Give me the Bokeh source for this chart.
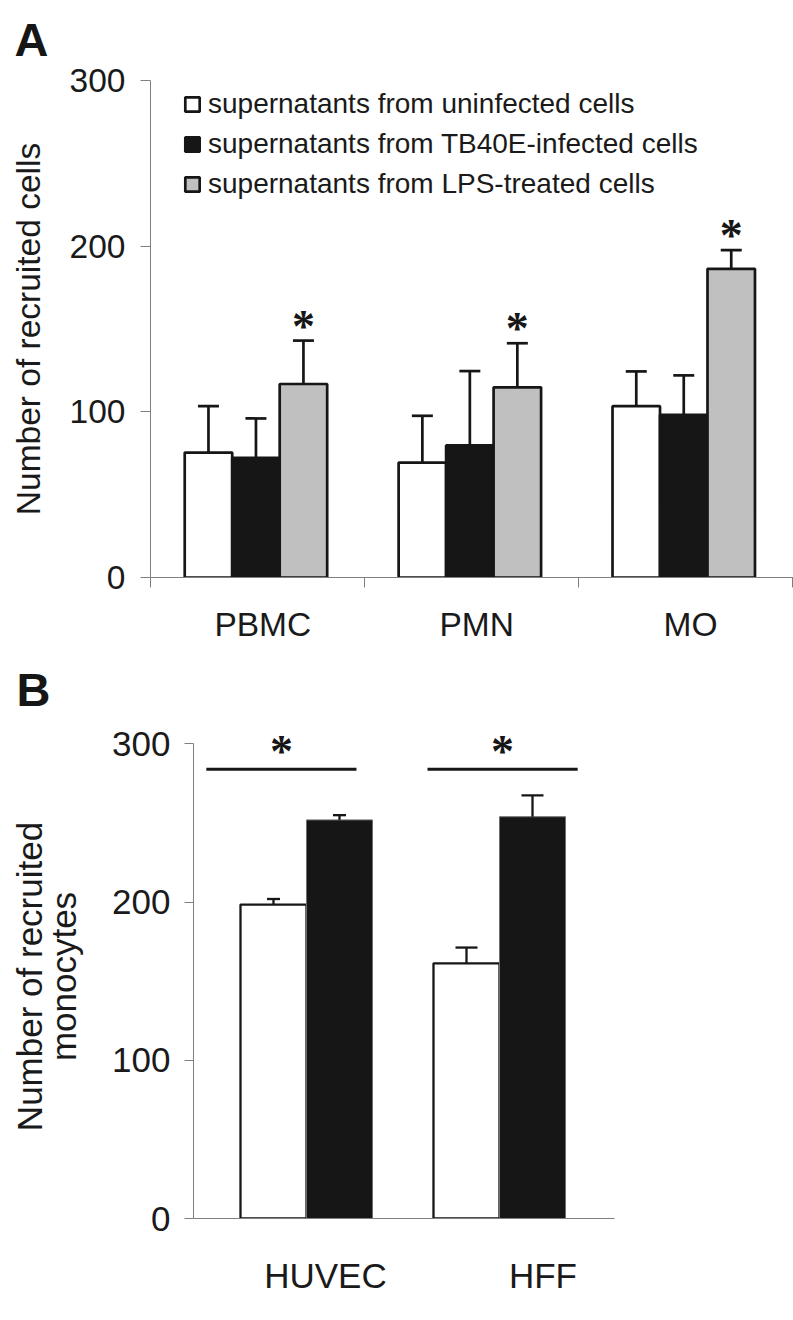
import numpy as np
from bokeh.plotting import figure
from bokeh.models import (ColumnDataSource, Whisker, TeeHead, Legend, LegendItem,
                          FixedTicker, LabelSet, Title)
from bokeh.embed import file_html
from bokeh.resources import INLINE

# ---------------- data: panel A ----------------
cells_a = ["PBMC", "PMN", "MO"]
series_a = ["supernatants from uninfected cells",
            "supernatants from TB40E-infected cells",
            "supernatants from LPS-treated cells"]
uninfected_a = [75.4, 69.4, 103.4]
uninfected_err_a = [28.0, 28.2, 21.0]
infected_a = [72.2, 79.7, 98.2]
infected_err_a = [23.8, 44.9, 23.8]
lps_a = [116.8, 114.8, 186.3]
lps_err_a = [26.2, 26.6, 11.3]
lps_signif_a = ["*", "*", "*"]
yticks_a = [0, 100, 200, 300]

# ---------------- data: panel B ----------------
cells_b = ["HUVEC", "HFF"]
uninfected_b = [198.5, 161.3]
uninfected_err_b = [3.5, 10.0]
infected_b = [252.0, 254.0]
infected_err_b = [3.0, 13.5]
bracket_level_b = [284, 284]
bracket_signif_b = ["*", "*"]
yticks_b = [0, 100, 200, 300]

FONT = "Liberation Sans"
DARK = "#161616"
GREY = "#c0c0c0"
AXIS = "#7f7f7f"
TXT = "#1a1a1a"


def style_common(p):
    p.xgrid.grid_line_color = None
    p.ygrid.grid_line_color = None
    p.outline_line_color = None
    p.background_fill_color = "white"
    p.border_fill_color = "white"
    for ax in (p.xaxis[0], p.yaxis[0]):
        ax.axis_line_color = AXIS
        ax.axis_line_width = 1
        ax.major_tick_line_color = AXIS
        ax.minor_tick_line_color = AXIS
        ax.major_tick_in = 0
        ax.minor_tick_in = 0
        ax.major_label_text_font = FONT
        ax.major_label_text_color = TXT
        ax.axis_label_text_font = FONT
        ax.axis_label_text_font_style = "normal"
        ax.axis_label_text_color = TXT


# ================= Panel A =================
A_W, A_H = 793, 646
A_L, A_R, A_T, A_B = 150, 0, 79, 69
A_FW = A_W - A_L - A_R
A_FH = A_H - A_T - A_B
PX_PER_CAT_A = 213.9
pA = figure(width=A_W, height=A_H, x_range=(0, A_FW / PX_PER_CAT_A), y_range=(0, 300),
            output_backend="svg", toolbar_location=None,
            min_border_left=A_L, min_border_right=A_R, min_border_top=A_T, min_border_bottom=A_B)
style_common(pA)

n_a = len(cells_a)
offsets_a = [-0.229, -0.007, 0.215]
bar_w_a = 0.222
vals = [uninfected_a, infected_a, lps_a]
errs = [uninfected_err_a, infected_err_a, lps_err_a]
fills = ["white", DARK, GREY]
renderers_a = []
sources_a = []
for k in range(3):
    x = np.arange(n_a) + 0.5 + offsets_a[k]
    top = np.array(vals[k], dtype=float)
    src = ColumnDataSource(dict(x=x, top=top, upper=top + np.array(errs[k])))
    sources_a.append(src)
    r = pA.vbar(x="x", top="top", width=bar_w_a, source=src, fill_color=fills[k],
                line_color=DARK, line_width=2.7)
    renderers_a.append(r)
for src in sources_a:
    w = Whisker(source=src, base="x", lower="top", upper="upper", dimension="height",
                line_color=DARK, line_width=2.7, level="annotation",
                upper_head=TeeHead(size=21, line_color=DARK, line_width=2.7), lower_head=None)
    pA.add_layout(w)

sources_a[2].data["star"] = lps_signif_a
pA.add_layout(LabelSet(x="x", y="upper", text="star", source=sources_a[2], text_align="center",
                       text_baseline="alphabetic", y_offset=-1, text_font=FONT,
                       text_font_style="bold", text_font_size="46px", text_color=DARK))

pA.yaxis.ticker = FixedTicker(ticks=yticks_a, minor_ticks=[])
pA.yaxis.major_tick_out = 10
pA.yaxis.major_label_standoff = 15
pA.yaxis.major_label_text_font_size = "33.5px"
pA.yaxis.axis_label = "Number of recruited cells"
pA.yaxis.axis_label_text_font_size = "33.5px"
pA.yaxis.axis_label_standoff = 20

tick_pos_a = [i + 0.525 for i in range(n_a)]
pA.xaxis.ticker = FixedTicker(ticks=tick_pos_a, minor_ticks=list(range(n_a + 1)))
pA.xaxis.major_label_overrides = {t: c for t, c in zip(tick_pos_a, cells_a)}
pA.xaxis.major_tick_out = 0
pA.xaxis.minor_tick_out = 10
pA.xaxis.major_label_standoff = 18
pA.xaxis.major_label_text_font_size = "33.5px"

leg_h = 3 * 32 + 2 * 8
legend = Legend(items=[LegendItem(label=series_a[k], renderers=[renderers_a[k]]) for k in range(3)],
                location=(33, A_FH - 9 - leg_h), orientation="vertical",
                glyph_width=18, glyph_height=18, label_height=32, spacing=8,
                label_standoff=7, padding=0, margin=0,
                border_line_alpha=0, background_fill_alpha=0,
                label_text_font=FONT, label_text_font_size="28px", label_text_color=TXT)
pA.add_layout(legend)

pA.add_layout(Title(text="A", align="left", offset=-136, standoff=25, vertical_align="top",
                    text_font=FONT, text_font_style="bold", text_font_size="47px",
                    text_color=DARK), "above")

# ================= Panel B =================
B_W, B_H = 793, 1320 - A_H
B_L, B_R, B_T, B_B = 193, 179, 86, 102
B_FW = B_W - B_L - B_R
PX_PER_CAT_B = 193.0
x0_b = -16.5 / PX_PER_CAT_B
pB = figure(width=B_W, height=B_H, x_range=(x0_b, x0_b + B_FW / PX_PER_CAT_B), y_range=(0, 306),
            output_backend="svg", toolbar_location=None,
            min_border_left=B_L, min_border_right=B_R, min_border_top=B_T, min_border_bottom=B_B)
style_common(pB)

n_b = len(cells_b)
offsets_b = [-0.171, 0.171]
bar_w_b = 0.342
xb_u = np.arange(n_b) + 0.5 + offsets_b[0]
xb_i = np.arange(n_b) + 0.5 + offsets_b[1]
srcB_u = ColumnDataSource(dict(x=xb_u, top=np.array(uninfected_b)))
srcB_i = ColumnDataSource(dict(x=xb_i, top=np.array(infected_b)))
pB.vbar(x="x", top="top", width=bar_w_b, source=srcB_u, fill_color="white",
        line_color=DARK, line_width=2.3)
pB.vbar(x="x", top="top", width=bar_w_b, source=srcB_i, fill_color=DARK,
        line_color="#6e6e6e", line_width=1)

cap_sizes_b = [13, 22]
for g in range(n_b):
    src = ColumnDataSource(dict(
        x=[xb_u[g], xb_i[g]],
        lower=[uninfected_b[g], infected_b[g]],
        upper=[uninfected_b[g] + uninfected_err_b[g], infected_b[g] + infected_err_b[g]]))
    pB.add_layout(Whisker(source=src, base="x", lower="lower", upper="upper", dimension="height",
                          line_color=DARK, line_width=2.3, level="annotation",
                          upper_head=TeeHead(size=cap_sizes_b[g], line_color=DARK, line_width=2.3),
                          lower_head=None))

bracket_shift = [-0.13, 0.016]
bracket_half = 0.389
bc = np.arange(n_b) + 0.5 + np.array(bracket_shift)
srcBr = ColumnDataSource(dict(x0=bc - bracket_half, x1=bc + bracket_half, xc=bc,
                              y=bracket_level_b, star=bracket_signif_b))
pB.segment(x0="x0", y0="y", x1="x1", y1="y", source=srcBr, line_color=DARK, line_width=3)
pB.add_layout(LabelSet(x="xc", y="y", text="star", source=srcBr, text_align="center",
                       text_baseline="alphabetic", y_offset=2, text_font=FONT,
                       text_font_style="bold", text_font_size="46px", text_color=DARK))

pB.yaxis.bounds = (0, 300)
pB.yaxis.ticker = FixedTicker(ticks=yticks_b, minor_ticks=[])
pB.yaxis.major_tick_out = 9
pB.yaxis.major_label_standoff = 14
pB.yaxis.major_label_text_font_size = "35px"
pB.yaxis.axis_label = "Number of recruited\nmonocytes"
pB.yaxis.axis_label_text_font_size = "35px"
pB.yaxis.axis_label_text_line_height = 0.88
pB.yaxis.axis_label_standoff = 26

tick_pos_b = [0.598, 1.725]
pB.xaxis.ticker = FixedTicker(ticks=tick_pos_b, minor_ticks=[])
pB.xaxis.major_label_overrides = {t: c for t, c in zip(tick_pos_b, cells_b)}
pB.xaxis.major_tick_out = 0
pB.xaxis.major_label_standoff = 37
pB.xaxis.major_label_text_font_size = "35px"

pB.add_layout(Title(text="B", align="left", offset=-177, standoff=33, vertical_align="top",
                    text_font=FONT, text_font_style="bold", text_font_size="47px",
                    text_color=DARK), "above")

open("out.html", "w").write(file_html([pA, pB], INLINE))
